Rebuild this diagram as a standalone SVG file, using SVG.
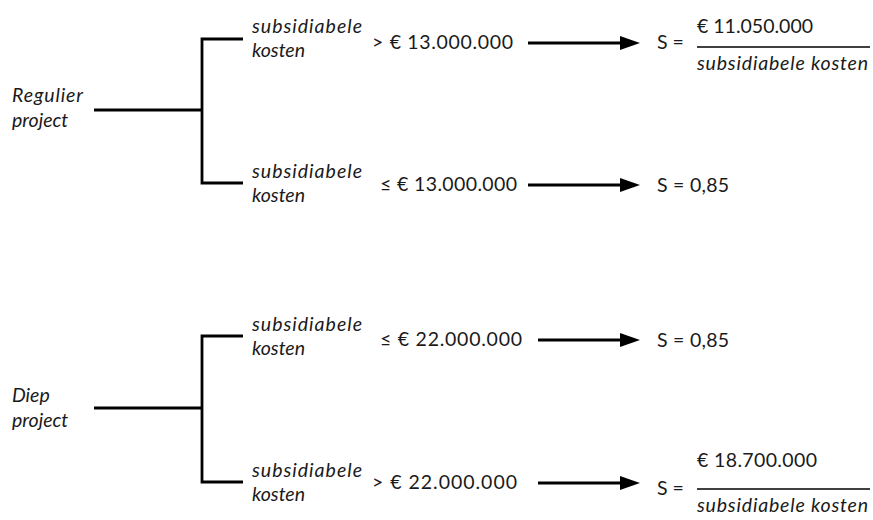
<svg xmlns="http://www.w3.org/2000/svg" width="873" height="520" viewBox="0 0 873 520">
<style>
  text { font-family: Lato, "Noto Sans", "Liberation Sans", sans-serif; font-size: 19.5px; fill: #1a1a1a; }
  .it { font-style: italic; }
  .ln { stroke: #000; stroke-width: 2.8; fill: none; }
  .frac { stroke: #000; stroke-width: 1.3; }
</style>
<defs>
  <marker id="arr" viewBox="0 0 20 14" markerWidth="20" markerHeight="14" markerUnits="userSpaceOnUse" refX="1" refY="7" orient="auto">
    <path d="M0,0 L20,7 L0,14 Z" fill="#000"/>
  </marker>
</defs>
<rect width="873" height="520" fill="#fff"/>

<g id="connectors">
  <path class="ln" d="M94,110 H202 M243,39 H202 V183 H243"/>
  <path class="ln" d="M94,408 H202 M243,336 H202 V482 H243"/>
  <line class="ln" x1="528" y1="43" x2="621" y2="43" marker-end="url(#arr)"/>
  <line class="ln" x1="528" y1="185" x2="621" y2="185" marker-end="url(#arr)"/>
  <line class="ln" x1="538" y1="340" x2="621" y2="340" marker-end="url(#arr)"/>
  <line class="ln" x1="538" y1="483" x2="621" y2="483" marker-end="url(#arr)"/>
</g>

<g id="regulier">
  <text class="it" x="12" y="102" textLength="71">Regulier</text>
  <text class="it" x="12" y="127">project</text>
</g>
<g id="diep">
  <text class="it" x="12" y="402">Diep</text>
  <text class="it" x="12" y="427">project</text>
</g>

<g id="cond-regulier-hoog">
  <text class="it" x="252" y="33" textLength="110">subsidiabele</text>
  <text class="it" x="252" y="57">kosten</text>
  <text x="372" y="49" textLength="141">&gt; € 13.000.000</text>
</g>
<g id="cond-regulier-laag">
  <text class="it" x="252" y="178" textLength="110">subsidiabele</text>
  <text class="it" x="252" y="202">kosten</text>
  <text x="380" y="191" textLength="137">≤ € 13.000.000</text>
</g>
<g id="cond-diep-laag">
  <text class="it" x="252" y="331" textLength="110">subsidiabele</text>
  <text class="it" x="252" y="355">kosten</text>
  <text x="380" y="346" textLength="142">≤ € 22.000.000</text>
</g>
<g id="cond-diep-hoog">
  <text class="it" x="252" y="477" textLength="110">subsidiabele</text>
  <text class="it" x="252" y="501">kosten</text>
  <text x="372" y="489" textLength="145">&gt; € 22.000.000</text>
</g>

<g id="res-regulier-hoog">
  <text x="657" y="49">S =</text>
  <text x="697" y="33" textLength="116">€ 11.050.000</text>
  <line class="frac" x1="697" y1="47" x2="870" y2="47"/>
  <text class="it" x="697" y="70" textLength="171">subsidiabele kosten</text>
</g>
<g id="res-regulier-laag">
  <text x="657" y="192" textLength="72">S = 0,85</text>
</g>
<g id="res-diep-laag">
  <text x="657" y="347" textLength="72">S = 0,85</text>
</g>
<g id="res-diep-hoog">
  <text x="657" y="495">S =</text>
  <text x="697" y="467" textLength="120">€ 18.700.000</text>
  <line class="frac" x1="697" y1="489" x2="870" y2="489"/>
  <text class="it" x="697" y="512" textLength="171">subsidiabele kosten</text>
</g>
</svg>
